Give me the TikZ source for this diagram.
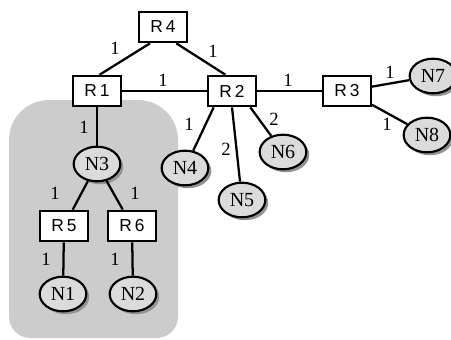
\documentclass[tikz,border=0pt]{standalone}
\usepackage{fontspec}
\setmainfont{Liberation Serif}
\newfontfamily\rfont{Liberation Sans}
\usetikzlibrary{shapes.geometric,shadows}
\begin{document}
\begin{tikzpicture}[x=0.75pt,y=-0.75pt,
  router/.style={draw,line width=1.5pt,fill=white,minimum width=36pt,minimum height=23pt,inner sep=0pt,font=\rfont\fontsize{13}{13}\selectfont},
  host/.style={ellipse,draw,line width=1.6pt,fill=gray!28,minimum width=35pt,minimum height=26pt,inner sep=0pt,font=\fontsize{15}{15}\selectfont,
    drop shadow={shadow xshift=2.2pt,shadow yshift=-2.2pt,fill=gray!85,opacity=1}},
  link/.style={line width=1.7pt},
  cost/.style={font=\fontsize{14}{14}\selectfont,inner sep=0pt}]
\useasboundingbox (0,0) rectangle (451,340);
% shaded area
\fill[gray!40] (9,230) [rounded corners=30pt] -- (9,100) -- (178,100) [rounded corners=16pt] -- (178,338) -- (9,338) -- cycle;
% routers
\node[router] (r4) at (163,27) {R\,4};
\node[router] (r1) at (97,91) {R\,1};
\node[router] (r2) at (232,91) {R\,2};
\node[router] (r3) at (347,91) {R\,3};
\node[router] (r5) at (64,226) {R\,5};
\node[router] (r6) at (132,226) {R\,6};
% hosts
\node[host] (n3) at (97,164) {N3};
\node[host] (n1) at (63,294) {N1};
\node[host] (n2) at (133,294) {N2};
\node[host] (n4) at (185,168) {N4};
\node[host] (n5) at (242,200) {N5};
\node[host] (n6) at (283,152) {N6};
\node[host] (n7) at (433,76) {N7};
\node[host] (n8) at (427,135) {N8};
% links
\draw[link] ([xshift=-9.75pt]r4.south) -- ([xshift=2pt]r1.north);
\draw[link] ([xshift=10pt]r4.south) -- ([xshift=-5pt]r2.north);
\draw[link] (r1) -- (r2);
\draw[link] (r2) -- (r3);
\draw[link] (r3) -- (n7);
\draw[link] (r3) -- (n8);
\draw[link] ([xshift=5pt]r2.south west) -- (n4);
\draw[link] (r2.south) -- (n5);
\draw[link] ([xshift=-5pt]r2.south east) -- (n6);
\draw[link] (r1) -- (n3);
\draw[link] (n3) -- (r5);
\draw[link] (n3) -- (r6);
\draw[link] (r5) -- (n1);
\draw[link] (r6) -- (n2);
% costs
\node[cost] (c1) at (115,48) {1};
\node[cost] (c2) at (213,51) {1};
\node[cost] (c3) at (163,80) {1};
\node[cost] (c4) at (288,80) {1};
\node[cost] (c5) at (390,72) {1};
\node[cost] (c6) at (387,124) {1};
\node[cost] (c7) at (274,119) {2};
\node[cost] (c8) at (226,149) {2};
\node[cost] (c9) at (189,124) {1};
\node[cost] (c10) at (84,127) {1};
\node[cost] (c11) at (55,193) {1};
\node[cost] (c12) at (135,193) {1};
\node[cost] (c13) at (46,259) {1};
\node[cost] (c14) at (115,259) {1};
\end{tikzpicture}
\end{document}
